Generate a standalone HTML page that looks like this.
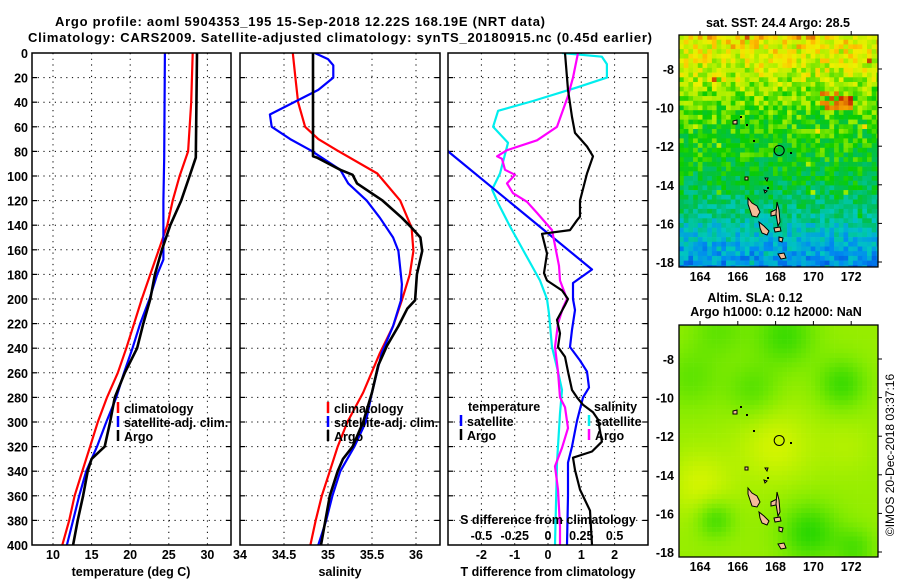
<!DOCTYPE html>
<html><head><meta charset="utf-8">
<style>
html,body{margin:0;padding:0;background:#fff;}
svg{display:block;font-family:"Liberation Sans",Arial,sans-serif;font-weight:bold;}
</style></head>
<body>
<svg id="fig" width="900" height="580" viewBox="0 0 900 580" xmlns="http://www.w3.org/2000/svg">
<defs>
<clipPath id="c1"><rect x="32" y="53" width="199" height="492"/></clipPath>
<clipPath id="c2"><rect x="240" y="53" width="200" height="492"/></clipPath>
<clipPath id="c3"><rect x="448" y="53" width="200" height="492"/></clipPath>
<clipPath id="cm1"><rect x="679" y="35" width="199" height="232"/></clipPath>
<clipPath id="cm2"><rect x="679" y="325" width="199" height="232"/></clipPath>
</defs>
<text x="300" y="26" text-anchor="middle" font-size="13" textLength="490">Argo profile: aoml 5904353_195 15-Sep-2018 12.22S 168.19E (NRT data)</text>
<text x="340" y="42" text-anchor="middle" font-size="13" textLength="624">Climatology: CARS2009. Satellite-adjusted climatology: synTS_20180915.nc (0.45d earlier)</text>
<g id="grids"></g>
<g id="series"></g>
<g id="frames"></g>
<g id="labels"></g>
<g id="maps"></g>
<text transform="translate(894,455) rotate(-90)" text-anchor="middle" font-size="12" font-weight="normal">©IMOS 20-Dec-2018 03:37:16</text>
</svg>
<script>
// ---------- data ----------
const depthTicks=[0,20,40,60,80,100,120,140,160,180,200,220,240,260,280,300,320,340,360,380,400];
const tempTicks=[10,15,20,25,30];
const salTicks=[34,34.5,35,35.5,36];
const diffTTicks=[-2,-1,0,1,2];
const diffSTickLabels=["-0.5","-0.25","0","0.25","0.5"];
// temperature panel
const argoTempDepth=[0,85,100,120,140,160,180,200,220,240,260,280,300,320,330,340,360,380,400];
const argoTemp=[28.65,28.5,27.7,26.6,25.2,24.1,23.2,22.6,21.7,20.9,19.3,18.0,17.4,16.7,15.0,14.5,13.9,13.2,12.6];
const climTempDepth=[0,40,80,100,120,140,160,180,200,220,240,260,280,300,320,340,360,380,400];
const climTemp=[28.1,27.9,27.5,26.4,25.5,24.8,23.7,22.6,21.5,20.5,19.5,18.4,17.0,15.8,14.8,13.8,12.8,12.1,11.2];
const satTempDepth=[0,85,120,168,180,200,220,240,260,280,300,320,340,360,380,400];
const satTemp=[24.5,24.4,24.3,24.3,23.5,22.5,21.3,20.3,19.2,18.2,16.9,15.7,14.3,13.4,12.6,11.8];
// salinity panel
const argoSalDepth=[0,84,85,95,99,106,120,134,142,150,161,180,201,208,222,238,254,276,300,320,330,340,360,380,400];
const argoSal=[34.83,34.83,34.875,35.14,35.28,35.33,35.62,35.84,35.95,36.05,36.07,36.01,35.99,35.9,35.8,35.67,35.57,35.5,35.4,35.28,35.17,35.11,35.02,34.97,34.92];
const climSalDepth=[0,20,40,60,70,79,98,120,142,161,180,201,222,244,276,300,320,340,360,380,400];
const climSal=[34.60,34.63,34.66,34.74,34.89,35.1,35.56,35.82,35.95,35.97,35.93,35.84,35.74,35.59,35.4,35.22,35.11,35.02,34.93,34.86,34.80];
const satSalDepth=[0,5,10,20,30,50,60,70,79,95,106,120,134,150,161,188,201,222,244,276,300,320,340,360,380,400];
const satSal=[34.85,35.0,35.06,35.06,34.89,34.34,34.36,34.57,34.8,35.14,35.23,35.44,35.59,35.74,35.8,35.84,35.83,35.74,35.61,35.5,35.43,35.3,35.14,35.05,34.98,34.89];
// difference panel (T-diff axis units)
const diffTSatDepth=[0,80,176,187,200,209,225,239,250,259,272,280,299,320,333,360,400];
const diffTSat=[-4.1,-3.0,1.32,0.75,0.75,0.81,0.72,0.66,0.96,1.17,1.23,1.05,0.87,0.72,0.6,0.6,0.57];
const diffArgoBDepth=[0,30,52,65,76,84,98,120,133,136,144,147,163,179,185,193,200,205,217,228,239,247,259,274,280,286,292,298,316,324,329,339,355,372,400];
const diffArgoB=[0.51,0.6,0.72,0.81,1.17,1.35,1.17,0.96,0.96,0.87,0.66,-0.18,-0.03,-0.12,-0.03,0.42,0.6,0.51,0.27,0.36,0.3,0.51,0.6,0.72,0.87,1.05,1.35,1.5,1.62,1.32,0.75,0.81,0.96,1.26,1.32];
const diffMagDepth=[0,20,35,60,71,79,84,86,95,99,106,114,121,130,144,173,185,200,207,220,239,259,280,288,305,321,336,355,385,400];
const diffMag=[0.9,0.75,0.6,0.27,-0.33,-1.23,-1.53,-1.38,-1.29,-0.99,-1.23,-1.05,-0.63,-0.33,0.12,0.33,0.36,0.57,0.45,0.3,0.21,0.3,0.36,0.51,0.6,0.42,0.21,0.3,0.36,0.36];
const diffCyanDepth=[0,3,9,20,28,39,47,60,73,98,111,122,141,163,185,200,212,239,259,274,293,333,400];
const diffCyan=[0.42,1.62,1.77,1.77,0.87,-0.45,-1.5,-1.65,-1.2,-1.44,-1.68,-1.5,-1.14,-0.69,-0.24,-0.03,0.03,0.12,0.3,0.42,0.36,0.27,0.21];

// ---------- scales ----------
const yD=d=>53+d*1.23;
const xT=t=>53+(t-10)*7.72;
const xS=s=>240+(s-34)*88;
const xDiff=v=>548+v*33.3;
const NS="http://www.w3.org/2000/svg";
function mk(tag,attrs,parent){const e=document.createElementNS(NS,tag);for(const k in attrs)e.setAttribute(k,attrs[k]);if(parent)parent.appendChild(e);return e;}
const G=document.getElementById('grids'),S=document.getElementById('series'),F=document.getElementById('frames'),L=document.getElementById('labels'),M=document.getElementById('maps');
const panels=[{x0:32,x1:231,name:'temperature'},{x0:240,x1:440,name:'salinity'},{x0:448,x1:648,name:'difference'}];
panels.forEach(p=>{
  depthTicks.forEach((d,i)=>{if(i===0||i===depthTicks.length-1)return;
    const l=mk('line',{x1:p.x0,x2:p.x1,y1:yD(d),y2:yD(d),stroke:'#000','stroke-width':1,'stroke-dasharray':'1.2,4.5'},G);
    
    
    [p.x0,p.x1-5].forEach(x=>{const t=mk('line',{x1:x,x2:x+5,y1:yD(d),y2:yD(d),stroke:'#000','stroke-width':1.2},G);
      
      });
  });
  const r=mk('rect',{x:p.x0,y:53,width:p.x1-p.x0,height:492,fill:'none',stroke:'#000','stroke-width':1.5},F);
  
  
});
function vgrid(xs,name){xs.forEach(x=>{const l=mk('line',{x1:x,x2:x,y1:53,y2:545,stroke:'#000','stroke-width':1,'stroke-dasharray':'1.2,4.5'},G);
  
  });}
vgrid(tempTicks.map(xT),'temperature-x');
vgrid(salTicks.filter(s=>s>34).map(xS),'salinity-x');
vgrid(diffTTicks.map(xDiff),'difference-x');
function txt(x,y,s,name,opts){const t=mk('text',Object.assign({x:x,y:y,'font-size':12},opts||{}),L);t.textContent=s;
  
  return t;}
depthTicks.forEach(d=>txt(28,yD(d)+5,String(d),'depth-tick-label',{'text-anchor':'end','font-size':12.5}));
tempTicks.forEach(t=>txt(xT(t),559,String(t),'temperature-tick-label',{'text-anchor':'middle','font-size':12.5}));
salTicks.forEach(s=>txt(xS(s),559,String(s),'salinity-tick-label',{'text-anchor':'middle','font-size':12.5}));
diffTTicks.forEach(v=>txt(xDiff(v),559,String(v),'t-difference-tick-label',{'text-anchor':'middle','font-size':12.5}));
diffSTickLabels.forEach((s,i)=>txt(xDiff(diffTTicks[i]),540,s,'s-difference-tick-label',{'text-anchor':'middle','font-size':12.5}));
txt(548,524,'S difference from climatology','s-difference-axis-title',{'text-anchor':'middle','font-size':12.5});
txt(131,576,'temperature (deg C)','temperature-axis-title',{'text-anchor':'middle','font-size':12.5});
txt(340,576,'salinity','salinity-axis-title',{'text-anchor':'middle','font-size':12.5});
txt(548,576,'T difference from climatology','t-difference-axis-title',{'text-anchor':'middle','font-size':12.5});

function series(depths,vals,xf,color,clip,name,w){
  const pts=depths.map((d,i)=>xf(vals[i]).toFixed(1)+','+yD(d).toFixed(1)).join(' ');
  const pl=mk('polyline',{points:pts,fill:'none',stroke:color,'stroke-width':w||2.2,'stroke-linejoin':'round','clip-path':'url(#'+clip+')'},S);
  
  
}
series(climTempDepth,climTemp,xT,'#ff0000','c1','climatology-temperature-line');
series(satTempDepth,satTemp,xT,'#0000ff','c1','satellite-temperature-line');
series(argoTempDepth,argoTemp,xT,'#000000','c1','argo-temperature-line',2.6);
series(climSalDepth,climSal,xS,'#ff0000','c2','climatology-salinity-line');
series(satSalDepth,satSal,xS,'#0000ff','c2','satellite-salinity-line');
series(argoSalDepth,argoSal,xS,'#000000','c2','argo-salinity-line',2.6);
series(diffCyanDepth,diffCyan,xDiff,'#00eeee','c3','satellite-salinity-difference-line');
series(diffTSatDepth,diffTSat,xDiff,'#0000ff','c3','satellite-temperature-difference-line');
series(diffMagDepth,diffMag,xDiff,'#ff00ff','c3','argo-salinity-difference-line');
series(diffArgoBDepth,diffArgoB,xDiff,'#000000','c3','argo-temperature-difference-line');

function legendRow(x,y,color,label,name){
  const b=mk('line',{x1:x,x2:x,y1:y-11,y2:y,stroke:color,'stroke-width':2.5},L);
  
  
  txt(x+6,y,label,name+'-label',{'font-size':12.5});
}
[[118,'p1'],[328,'p2']].forEach(([x,p])=>{
  legendRow(x,413,'#ff0000','climatology',p+'-legend-climatology');
  legendRow(x,427,'#0000ff','satellite-adj. clim.',p+'-legend-satellite');
  legendRow(x,441,'#000000','Argo',p+'-legend-argo');
});
txt(468,411,'temperature','legend-temperature-heading',{'font-size':12.5});
legendRow(461,426,'#0000ff','satellite','legend-temperature-satellite');
legendRow(461,440,'#000000','Argo','legend-temperature-argo');
txt(594,411,'salinity','legend-salinity-heading',{'font-size':12.5});
legendRow(589,426,'#00eeee','satellite','legend-salinity-satellite');
legendRow(589,440,'#ff00ff','Argo','legend-salinity-argo');

// ---------- maps ----------
const mapLonTicks=[164,166,168,170,172];
const mapLatTicks=[-8,-10,-12,-14,-16,-18];
const lonX=lon=>700+(lon-164)*18.9;
const latOff=lat=>34+(-8-lat)*19.3;
function hash(i,j,s){let h=(i*374761393+j*668265263+s*1442695041)|0;h=(h^(h>>>13))*1274126177|0;return ((h^(h>>>16))>>>0)/4294967295;}
function lerpColor(stops,v){v=Math.max(0,Math.min(1,v));for(let k=1;k<stops.length;k++){if(v<=stops[k][0]){const a=stops[k-1],b=stops[k],f=(v-a[0])/(b[0]-a[0]);
  const ca=a[1],cb=b[1];return 'rgb('+[0,1,2].map(c=>Math.round(ca[c]+(cb[c]-ca[c])*f)).join(',')+')';}}return 'rgb('+stops[stops.length-1][1].join(',')+')';}
const sstStops=[[0,[0,40,210]],[0.2,[0,140,240]],[0.35,[0,200,190]],[0.5,[0,190,90]],[0.62,[10,205,0]],[0.75,[170,240,0]],[0.85,[240,240,0]],[0.93,[255,190,0]],[1,[190,30,0]]];
const slaStops=[[0,[40,215,0]],[0.5,[130,235,0]],[1,[215,245,0]]];
const latProfLat=[-6.2,-8,-9.5,-11,-12.5,-14,-15.5,-16.5,-18.3];
const latProfVal=[0.86,0.8,0.7,0.63,0.6,0.53,0.45,0.33,0.2];
function prof(lat){for(let k=1;k<latProfLat.length;k++){if(lat>=latProfLat[k]){const f=(lat-latProfLat[k-1])/(latProfLat[k]-latProfLat[k-1]);return latProfVal[k-1]+(latProfVal[k]-latProfVal[k-1])*f;}}return 0.2;}
const blobs=[[171.5,-9.3,1.3,-0.5],[164.8,-16.3,1.0,-0.5],[169.8,-17.0,1.5,-0.6],[166.8,-9.6,1.4,-0.35],[168.5,-6.8,1.6,-0.5],[172.2,-17.8,1.1,-0.4],[163.5,-9.0,1.6,-0.3],[164.0,-14.5,1.8,0.35],[168.0,-12.5,2.0,0.35],[171.8,-12.5,1.5,0.15],[165,-6.5,1.5,-0.3]];
function drawMap(oy,clip,kind,name){
  const g=mk('g',{'clip-path':'url(#'+clip+')'},M);
  
  
  const cs=4.7;
  for(let r=0;r<50;r++)for(let c=0;c<43;c++){
    const x=679+c*cs,y=oy+r*cs;
    const lon=164+(x+cs/2-700)/18.9,lat=-8-(y+cs/2-oy-34)/19.3;
    let col;
    if(kind==='sst'){let v=prof(lat)+(hash(r,c,1)-0.5)*0.22;
      if(lon>170.4&&lon<172.2&&lat<-9.1&&lat>-10.1&&hash(r,c,2)>0.4)v=0.94+hash(r,c,4)*0.06;
      if(hash(r,c,3)>0.99)v+=0.15;
      col=lerpColor(sstStops,v);}
    else{let v=0.62;blobs.forEach(b=>{const dd=((lon-b[0])**2+(lat-b[1])**2)/(b[2]*b[2]);v+=b[3]*Math.exp(-dd);});
      col=lerpColor(slaStops,v);}
    mk('rect',{x:x.toFixed(1),y:y.toFixed(1),width:cs+0.3,height:cs+0.3,fill:col},g);
  }
  const isl=[[[748,198],[752,203],[757,206],[760,212],[757,217],[752,216],[750,210],[748,204]],
    [[759,222],[764,226],[769,231],[767,235],[762,233],[760,228]],
    [[771,212],[777,209],[776,215],[771,216]],
    [[777,202],[779,210],[780,222],[778,226],[776,214]],
    [[774,228],[780,227],[781,231],[775,232]],
    [[779,237],[783,238],[782,242],[779,241]],
    [[778,254],[784,253],[786,258],[781,259]],
    [[733,121],[737,120],[737,124],[733,124]],
    [[745,177],[748,177],[748,180],[745,180]],
    [[765,178],[768,178],[767,181]],
    [[764,190],[767,191],[765,193]]];
  isl.forEach(p=>{const pg=mk('polygon',{points:p.map(q=>q[0]+','+(q[1]-35+oy)).join(' '),fill:'#f4bc98',stroke:'#000','stroke-width':1},g);
    
    });
  [[746,124],[740,116],[753,140],[767,187],[790,152]].forEach(q=>{const d=mk('rect',{x:q[0],y:q[1]-35+oy,width:2,height:2,fill:'#000'},g);
    
    });
  const ci=mk('circle',{cx:lonX(168.19),cy:oy+latOff(-12.22),r:5,fill:'none',stroke:'#000','stroke-width':1},g);
  
  
  const fr=mk('rect',{x:679,y:oy,width:199,height:232,fill:'none',stroke:'#000','stroke-width':1.3},M);
  
  
  mapLonTicks.forEach(l=>{const x=lonX(l);
    const t=mk('line',{x1:x,x2:x,y1:oy-4,y2:oy,stroke:'#000'},M);
    
    
    const tt=mk('text',{x:x,y:oy+246,'text-anchor':'middle','font-size':12.5},M);tt.textContent=String(l);
    
    });
  mapLatTicks.forEach(l=>{const y=oy+latOff(l);
    const t=mk('line',{x1:878,x2:882,y1:y,y2:y,stroke:'#000'},M);
    
    
    const tt=mk('text',{x:674,y:y+5,'text-anchor':'end','font-size':12.5},M);tt.textContent=String(l);
    
    });
}
drawMap(35,'cm1','sst','sst-map');
drawMap(325,'cm2','sla','sla-map');
function mtxt(x,y,s,name){const t=mk('text',{x:x,y:y,'text-anchor':'middle','font-size':12.5},M);t.textContent=s;
  
  }
mtxt(778,27,'sat. SST: 24.4 Argo: 28.5','sst-map-title');
mtxt(755,302,'Altim. SLA: 0.12','sla-map-title');
mtxt(776,316,'Argo h1000: 0.12 h2000: NaN','sla-map-subtitle');
</script>
</body></html>
